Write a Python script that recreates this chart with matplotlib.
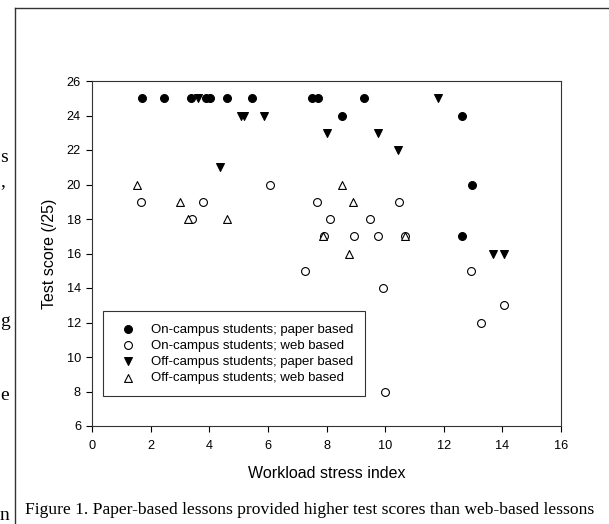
import matplotlib
matplotlib.use("Agg")
import matplotlib.pyplot as plt
from matplotlib.lines import Line2D

plt.rcParams["font.family"] = ["Liberation Sans", "DejaVu Sans"]

# On-campus students, paper based
on_paper_x = [1.72, 2.47, 3.38, 3.90, 4.01, 4.60, 5.47, 7.52, 7.70, 9.27, 8.54, 12.61, 12.95, 12.61]
on_paper_y = [25, 25, 25, 25, 25, 25, 25, 25, 25, 25, 24, 24, 20, 17]

# On-campus students, web based
on_web_x = [1.66, 3.80, 3.42, 6.06, 7.67, 8.13, 7.93, 10.47, 9.47, 8.94, 9.74, 10.69,
            12.93, 9.94, 14.07, 13.26, 10.00, 7.28]
on_web_y = [19, 19, 18, 20, 19, 18, 17, 19, 18, 17, 17, 17, 15, 14, 13, 12, 8, 15]

# Off-campus students, paper based
off_paper_x = [3.61, 5.09, 5.19, 5.88, 4.35, 8.01, 11.80, 9.74, 10.43, 13.67, 14.07]
off_paper_y = [25, 24, 24, 24, 21, 23, 25, 23, 22, 16, 16]

# Off-campus students, web based
off_web_x = [1.54, 3.00, 3.26, 4.61, 7.88, 8.54, 8.91, 10.69, 8.76]
off_web_y = [20, 19, 18, 18, 17, 20, 19, 17, 16]

series_labels = [
    "On-campus students; paper based",
    "On-campus students; web based",
    "Off-campus students; paper based",
    "Off-campus students; web based",
]

caption = "Figure 1. Paper-based lessons provided higher test scores than web-based lessons"

fig = plt.figure(figsize=(6.09, 5.24), dpi=100)
ax = fig.add_axes([92 / 609, 98 / 524, 469 / 609, 345 / 524])

ms = 32
ax.scatter(on_paper_x, on_paper_y, s=ms, marker="o", facecolor="black",
           edgecolor="black", linewidth=0.8, label=series_labels[0], zorder=3)
ax.scatter(on_web_x, on_web_y, s=ms, marker="o", facecolor="white",
           edgecolor="black", linewidth=0.8, label=series_labels[1], zorder=3)
ax.scatter(off_paper_x, off_paper_y, s=ms, marker="v", facecolor="black",
           edgecolor="black", linewidth=0.8, label=series_labels[2], zorder=3)
ax.scatter(off_web_x, off_web_y, s=ms, marker="^", facecolor="white",
           edgecolor="black", linewidth=0.8, label=series_labels[3], zorder=3)

ax.set_xlim(0, 16)
ax.set_ylim(6, 26)
ax.set_xticks(range(0, 17, 2))
ax.set_yticks(range(6, 27, 2))
ax.tick_params(direction="out", length=4, width=0.8, labelsize=9.2)
ax.tick_params(axis="x", pad=6)
ax.tick_params(axis="y", pad=4)
for sp in ax.spines.values():
    sp.set_linewidth(0.8)
    sp.set_color("#333333")

ax.set_xlabel("Workload stress index", fontsize=11.5, labelpad=10)
ax.set_ylabel("Test score (/25)", fontsize=11.5, labelpad=7)

leg = ax.legend(loc="lower left", bbox_to_anchor=(0.0235, 0.087),
                borderaxespad=0, fontsize=9.5, frameon=True, fancybox=False,
                handletextpad=0.72, handlelength=2.0, labelspacing=0.3,
                borderpad=0.9)
leg.get_frame().set_edgecolor("black")
leg.get_frame().set_linewidth(0.8)

# caption and page frame
fig.text(25 / 609, 1 - 510 / 524, caption, family=["Liberation Serif", "DejaVu Serif"],
         fontsize=12.6, va="center", ha="left")
fig.add_artist(Line2D([15 / 609, 1.0], [1 - 8 / 524, 1 - 8 / 524],
                      transform=fig.transFigure, color="#333333", linewidth=1.0))
fig.add_artist(Line2D([15 / 609, 15 / 609], [0.0, 1 - 8 / 524],
                      transform=fig.transFigure, color="#333333", linewidth=1.0))

# clipped letters from the neighbouring page text
for ch, yy in [("s", 158), (",", 182), ("g", 322), ("e", 396), ("n", 516)]:
    fig.text(0 / 609, 1 - yy / 524, ch, family=["Liberation Serif", "DejaVu Serif"],
             fontsize=14, va="center", ha="left")

fig.savefig("out.png", dpi=100)
